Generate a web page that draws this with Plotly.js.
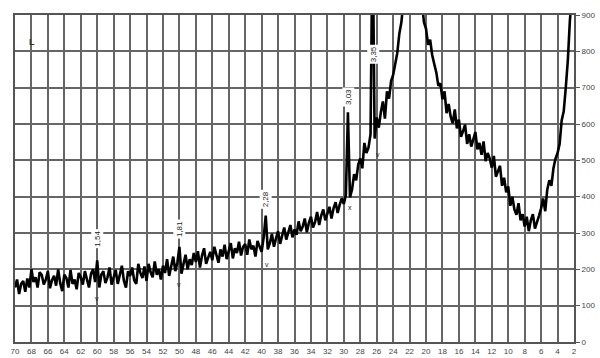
<!DOCTYPE html>
<html>
<head>
<meta charset="utf-8">
<script src="https://cdn.plot.ly/plotly-3.0.1.min.js"></script>
<style>html,body{margin:0;padding:0;background:#fff;}#chart{width:600px;height:358px;}</style>
</head>
<body>
<div id="chart"></div>
<script>
// Scan grid: 2θ from 70° down to 2° in 0.25° steps
const twoThetaStart = 70;
const twoThetaStep = -0.25;

const intensity = [
  150, 172, 132, 160, 168, 138, 175, 150,
  200, 165, 178, 150, 192, 185, 158, 172,
  195, 148, 170, 182, 155, 200, 162, 140,
  185, 176, 150, 198, 160, 172, 145, 190,
  178, 158, 195, 170, 150, 188, 200, 165,
  225, 150, 185, 195, 162, 178, 205, 158,
  175, 198, 160, 185, 210, 168, 150, 195,
  182, 205, 170, 160, 215, 190, 176, 208,
  168, 215, 192, 178, 222, 185, 200, 172,
  210, 190, 228, 182, 205, 235, 195, 218,
  262, 188, 215, 240, 200, 228, 212, 245,
  220, 250, 205, 238, 258, 215, 232, 248,
  225, 262, 240, 218, 255, 235, 268, 228,
  250, 272, 230, 258, 245, 276, 238, 262,
  270, 240, 282, 255, 265, 235, 278, 260,
  248, 288, 348, 255, 272, 298, 262, 285,
  305, 270, 290, 315, 282, 300, 322, 288,
  310, 295, 332, 305, 318, 340, 302, 328,
  345, 315, 330, 358, 322, 348, 365, 335,
  352, 372, 340, 368, 385, 355, 378, 395,
  380, 405, 632, 398, 420, 462, 445, 488,
  505, 478, 548, 520, 535, 572, 1150, 560,
  618, 590, 632, 662, 615, 690, 670, 718,
  735, 770, 795, 848, 880, 935, 985, 1020,
  1050, 1080, 1100, 1080, 1040, 990, 930, 880,
  862, 818, 832, 790, 765, 742, 705, 712,
  668, 690, 630, 655, 620, 602, 640, 588,
  612, 565, 580, 598, 545, 572, 538, 560,
  578, 530, 548, 515, 552, 498, 520, 505,
  480, 512, 455, 470, 485, 430, 452, 412,
  428, 375, 400, 365, 350, 382, 335, 352,
  318, 345, 305, 335, 352, 312, 328, 348,
  368, 395, 360, 420, 445, 430, 478, 505,
  520, 545, 610, 635, 700, 775, 885, 960,
  1020
];
const twoTheta = intensity.map((_, i) => twoThetaStart + twoThetaStep * i);

// d-spacing labels (Å) and their 2θ positions
const peakLabels = ['1,54', '1,81', '2,28', '3,03', '3,35'];
const peakPos = [60, 50, 39.5, 29.5, 26.45];
const peakLabelHeight = [285, 312, 392, 674, 792];

// small marks under the peaks
const markText = ['v', 'v', 'v', 'x', 'v'];
const markPos = [60, 50, 39.4, 29.3, 25.9];
const markHeight = [121, 157, 213, 370, 516];

const trace = {
  x: twoTheta, y: intensity, type: 'scatter', mode: 'lines',
  line: {color: '#000', width: 2.6}, hoverinfo: 'skip'
};

const FONT = 'Liberation Sans, Arial, sans-serif';
const annotations = [];
peakLabels.forEach((t, i) => annotations.push({
  x: peakPos[i], y: peakLabelHeight[i], xref: 'x', yref: 'y', text: t,
  showarrow: false, textangle: -90, bgcolor: '#fff',
  font: {family: FONT, size: 8, color: '#222'}
}));
markText.forEach((t, i) => annotations.push({
  x: markPos[i], y: markHeight[i], xref: 'x', yref: 'y', text: t,
  showarrow: false, font: {family: FONT, size: 7, color: '#222'}
}));
annotations.push({
  x: 0.021, y: 0.94, xref: 'paper', yref: 'paper', text: '<b>L</b>', showarrow: false,
  font: {family: FONT, size: 9, color: '#333'}
});

const layout = {
  width: 600, height: 358,
  margin: {l: 15, r: 26, t: 15, b: 16, pad: 0},
  paper_bgcolor: '#fff', plot_bgcolor: '#fff',
  showlegend: false,
  xaxis: {
    range: [70, 2], tick0: 0, dtick: 2, showgrid: true,
    gridcolor: '#666', gridwidth: 2, zeroline: false,
    showline: true, mirror: true, linecolor: '#555', linewidth: 2,
    ticks: '', tickfont: {family: FONT, size: 8, color: '#444'}
  },
  yaxis: {
    side: 'right', range: [0, 900], dtick: 100, showgrid: true,
    gridcolor: '#666', gridwidth: 2, zeroline: false,
    showline: true, mirror: true, linecolor: '#555', linewidth: 2,
    ticks: 'outside', ticklen: 4, tickcolor: '#555', tickwidth: 1,
    tickfont: {family: FONT, size: 8, color: '#444'}
  },
  annotations: annotations
};

Plotly.newPlot('chart', [trace], layout, {staticPlot: true, displayModeBar: false});
</script>
</body>
</html>
